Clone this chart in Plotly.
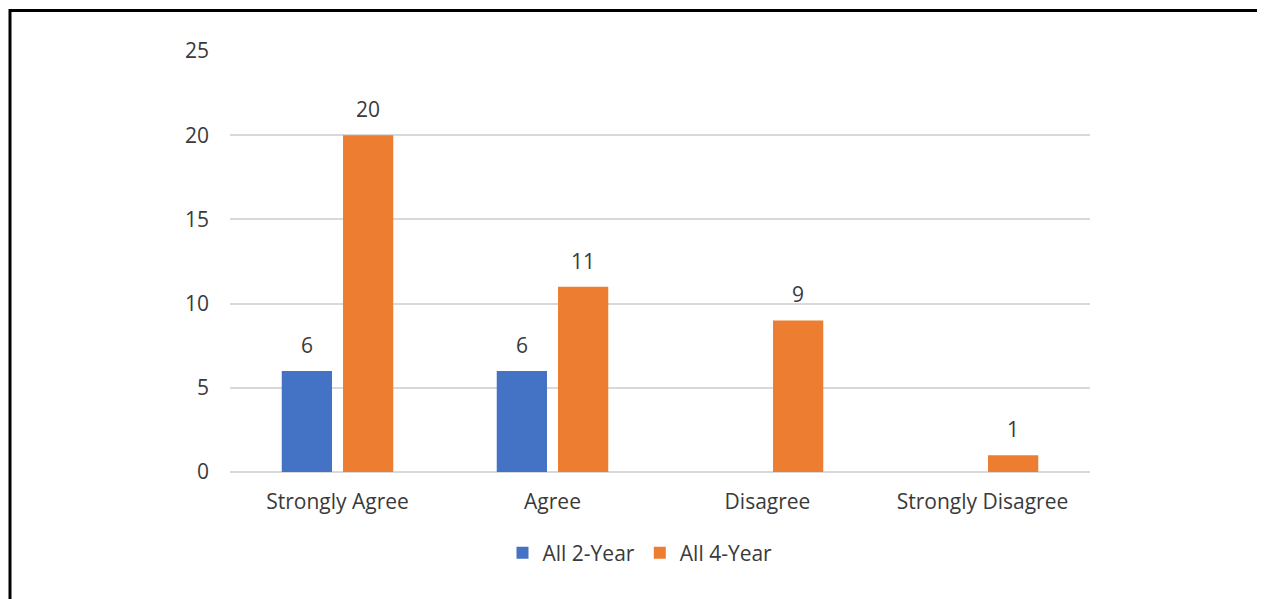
import plotly.graph_objects as go

categories = ["Strongly Agree", "Agree", "Disagree", "Strongly Disagree"]
two_year = [6, 6, None, None]
four_year = [20, 11, 9, 1]
series_names = ["All 2-Year", "All 4-Year"]
y_ticks = [0, 5, 10, 15, 20, 25]

# the page body adds an 8px offset; figure coords = reference coords - 8
OFF = 8
W, H = 1257, 591
L = 230 - OFF
T = 51 - OFF
R = W - (1090 - OFF)
B = H - (472 - OFF)
FONT = "Open Sans"
FS = 21
TXT = "#3a3a3a"
BLUE = "#4472C4"
ORANGE = "#ED7D31"

fig = go.Figure()
fig.add_trace(go.Bar(name=series_names[0], x=categories, y=two_year,
                     marker=dict(color=BLUE, line=dict(width=0))))
fig.add_trace(go.Bar(name=series_names[1], x=categories, y=four_year,
                     marker=dict(color=ORANGE, line=dict(width=0))))

# data labels via annotations anchored on axis coordinates
offset = 30.75
for vals, sh in ((two_year, -offset), (four_year, offset)):
    for c, v in zip(categories, vals):
        if v is None:
            continue
        fig.add_annotation(x=c, y=v, xref="x", yref="y", text=str(v),
                           showarrow=False, xshift=sh, yshift=10,
                           yanchor="bottom",
                           font=dict(family=FONT, size=FS, color=TXT))

pw = W - L - R
ph = H - T - B
def px_x(p):
    return (p - OFF - L) / pw
def px_y(p):
    return (H - B - (p - OFF)) / ph

fig.add_shape(type="line", xref="paper", yref="paper",
              x0=px_x(10), x1=px_x(1275), y0=px_y(10.5), y1=px_y(10.5),
              line=dict(color="black", width=3))
fig.add_shape(type="line", xref="paper", yref="paper",
              x0=px_x(10), x1=px_x(10), y0=px_y(9), y1=px_y(605),
              line=dict(color="black", width=3))

fig.update_layout(
    width=W, height=H,
    margin=dict(l=L, r=R, t=T, b=B, pad=0),
    paper_bgcolor="white", plot_bgcolor="white",
    barmode="group", bargap=0.43, bargroupgap=0.18,
    font=dict(family=FONT, size=FS, color=TXT),
    showlegend=True,
    legend=dict(orientation="h", x=px_x(640), xanchor="center",
                y=px_y(553), yanchor="middle",
                font=dict(family=FONT, size=FS, color=TXT),
                itemwidth=30, tracegroupgap=0),
    xaxis=dict(showgrid=False, showline=False, zeroline=False,
               ticks="", tickfont=dict(family=FONT, size=FS, color=TXT),
               ticklabelstandoff=15),
    yaxis=dict(range=[0, 25], tickvals=y_ticks, showgrid=True,
               gridcolor="#d9d9d9", gridwidth=1.5, zeroline=True,
               zerolinecolor="#d9d9d9", zerolinewidth=1.5, showline=False,
               ticks="", tickfont=dict(family=FONT, size=FS, color=TXT),
               ticklabelstandoff=20),
)

fig.write_html("out.html")
